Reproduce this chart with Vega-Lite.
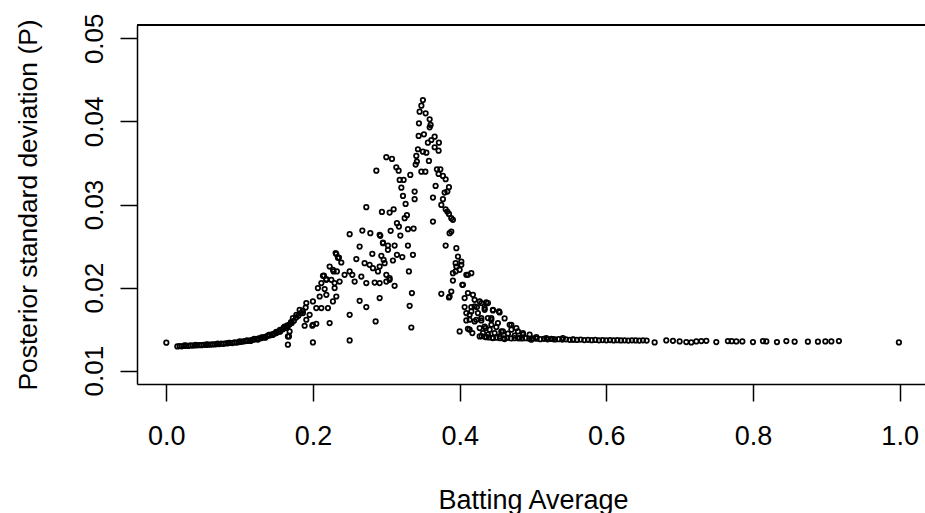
{
  "$schema": "https://vega.github.io/schema/vega-lite/v6.json",
  "autosize": "none",
  "width": 788,
  "height": 359,
  "padding": {"left": 137, "top": 25, "right": 0, "bottom": 129},
  "background": "white",
  "config": {
    "view": {"stroke": null},
    "font": "Liberation Sans"
  },
  "data": {
    "values": [
      {"avg": 0.0, "sd": 0.01337},
      {"avg": 0.015, "sd": 0.01292}, {"avg": 0.018, "sd": 0.01296}, {"avg": 0.021, "sd": 0.01294}, {"avg": 0.024, "sd": 0.01299},
      {"avg": 0.027, "sd": 0.01301}, {"avg": 0.030, "sd": 0.01298}, {"avg": 0.033, "sd": 0.01304}, {"avg": 0.036, "sd": 0.01302},
      {"avg": 0.039, "sd": 0.01306}, {"avg": 0.042, "sd": 0.01305}, {"avg": 0.045, "sd": 0.01309}, {"avg": 0.048, "sd": 0.01307},
      {"avg": 0.051, "sd": 0.01311}, {"avg": 0.054, "sd": 0.01310}, {"avg": 0.057, "sd": 0.01314}, {"avg": 0.060, "sd": 0.01313},
      {"avg": 0.063, "sd": 0.01317}, {"avg": 0.066, "sd": 0.01316}, {"avg": 0.069, "sd": 0.01321}, {"avg": 0.072, "sd": 0.01320},
      {"avg": 0.075, "sd": 0.01325}, {"avg": 0.078, "sd": 0.01324}, {"avg": 0.081, "sd": 0.01329}, {"avg": 0.084, "sd": 0.01330},
      {"avg": 0.087, "sd": 0.01334}, {"avg": 0.090, "sd": 0.01333}, {"avg": 0.093, "sd": 0.01340}, {"avg": 0.096, "sd": 0.01338},
      {"avg": 0.099, "sd": 0.01345}, {"avg": 0.102, "sd": 0.01348}, {"avg": 0.105, "sd": 0.01352}, {"avg": 0.108, "sd": 0.01356},
      {"avg": 0.111, "sd": 0.01360}, {"avg": 0.114, "sd": 0.01363}, {"avg": 0.117, "sd": 0.01370}, {"avg": 0.120, "sd": 0.01375},
      {"avg": 0.123, "sd": 0.01380}, {"avg": 0.126, "sd": 0.01388}, {"avg": 0.129, "sd": 0.01392}, {"avg": 0.132, "sd": 0.01400},
      {"avg": 0.135, "sd": 0.01408}, {"avg": 0.138, "sd": 0.01418}, {"avg": 0.141, "sd": 0.01425}, {"avg": 0.144, "sd": 0.01437},
      {"avg": 0.147, "sd": 0.01445}, {"avg": 0.150, "sd": 0.01458}, {"avg": 0.153, "sd": 0.01470}, {"avg": 0.156, "sd": 0.01485},
      {"avg": 0.159, "sd": 0.01500}, {"avg": 0.162, "sd": 0.01515}, {"avg": 0.165, "sd": 0.01535}, {"avg": 0.168, "sd": 0.01555},
      {"avg": 0.171, "sd": 0.01575}, {"avg": 0.174, "sd": 0.01600}, {"avg": 0.177, "sd": 0.01640}, {"avg": 0.180, "sd": 0.01660},
      {"avg": 0.183, "sd": 0.01690}, {"avg": 0.186, "sd": 0.01720}, {"avg": 0.190, "sd": 0.01760},
      {"avg": 0.025, "sd": 0.01304}, {"avg": 0.040, "sd": 0.01310}, {"avg": 0.055, "sd": 0.01316}, {"avg": 0.070, "sd": 0.01326},
      {"avg": 0.085, "sd": 0.01336}, {"avg": 0.100, "sd": 0.01352}, {"avg": 0.110, "sd": 0.01366}, {"avg": 0.120, "sd": 0.01382},
      {"avg": 0.130, "sd": 0.01402}, {"avg": 0.140, "sd": 0.01432}, {"avg": 0.150, "sd": 0.01468}, {"avg": 0.155, "sd": 0.01490},
      {"avg": 0.160, "sd": 0.01520}, {"avg": 0.165, "sd": 0.01545}, {"avg": 0.170, "sd": 0.01585},
      {"avg": 0.115, "sd": 0.01358}, {"avg": 0.125, "sd": 0.01375}, {"avg": 0.135, "sd": 0.01398}, {"avg": 0.145, "sd": 0.01430},
      {"avg": 0.155, "sd": 0.01470}, {"avg": 0.165, "sd": 0.01520},
      {"avg": 0.1658, "sd": 0.01313}, {"avg": 0.1999, "sd": 0.0134}, {"avg": 0.25, "sd": 0.01364}, {"avg": 0.25, "sd": 0.01673},
      {"avg": 0.1991, "sd": 0.01541}, {"avg": 0.2727, "sd": 0.01766}, {"avg": 0.2854, "sd": 0.01593}, {"avg": 0.2636, "sd": 0.01841},
      {"avg": 0.1672, "sd": 0.01412},
      {"avg": 0.2309, "sd": 0.02415}, {"avg": 0.234, "sd": 0.02358}, {"avg": 0.2227, "sd": 0.02254}, {"avg": 0.2272, "sd": 0.02214},
      {"avg": 0.2326, "sd": 0.02194}, {"avg": 0.2136, "sd": 0.02142}, {"avg": 0.2182, "sd": 0.02102}, {"avg": 0.2114, "sd": 0.02054},
      {"avg": 0.225, "sd": 0.02094}, {"avg": 0.2067, "sd": 0.01994}, {"avg": 0.2159, "sd": 0.01982}, {"avg": 0.2295, "sd": 0.01994},
      {"avg": 0.2091, "sd": 0.01893}, {"avg": 0.2182, "sd": 0.01913}, {"avg": 0.2272, "sd": 0.01833}, {"avg": 0.2318, "sd": 0.01893},
      {"avg": 0.1909, "sd": 0.01814}, {"avg": 0.1999, "sd": 0.01833}, {"avg": 0.2045, "sd": 0.01754}, {"avg": 0.2114, "sd": 0.01754},
      {"avg": 0.2204, "sd": 0.01754}, {"avg": 0.1818, "sd": 0.01733}, {"avg": 0.1863, "sd": 0.01693}, {"avg": 0.1954, "sd": 0.01673},
      {"avg": 0.1773, "sd": 0.01673}, {"avg": 0.1726, "sd": 0.01633}, {"avg": 0.1909, "sd": 0.01613}, {"avg": 0.1999, "sd": 0.01553},
      {"avg": 0.2045, "sd": 0.01565}, {"avg": 0.2227, "sd": 0.01573}, {"avg": 0.1886, "sd": 0.01541}, {"avg": 0.1613, "sd": 0.01532},
      {"avg": 0.1681, "sd": 0.01472}, {"avg": 0.1658, "sd": 0.01412}, {"avg": 0.15, "sd": 0.01453},
      {"avg": 0.2318, "sd": 0.02403}, {"avg": 0.2354, "sd": 0.02362}, {"avg": 0.2386, "sd": 0.02302}, {"avg": 0.2281, "sd": 0.02194},
      {"avg": 0.2149, "sd": 0.02145}, {"avg": 0.2809, "sd": 0.02406}, {"avg": 0.2932, "sd": 0.02382}, {"avg": 0.2963, "sd": 0.02334},
      {"avg": 0.2591, "sd": 0.02343}, {"avg": 0.2704, "sd": 0.02294}, {"avg": 0.2772, "sd": 0.02274}, {"avg": 0.2817, "sd": 0.02234},
      {"avg": 0.2909, "sd": 0.02254}, {"avg": 0.2886, "sd": 0.02194}, {"avg": 0.309, "sd": 0.02326}, {"avg": 0.3145, "sd": 0.02394},
      {"avg": 0.3218, "sd": 0.02367}, {"avg": 0.3363, "sd": 0.02394}, {"avg": 0.3308, "sd": 0.02194}, {"avg": 0.3, "sd": 0.02154},
      {"avg": 0.3045, "sd": 0.02094}, {"avg": 0.2909, "sd": 0.02054}, {"avg": 0.2841, "sd": 0.02061}, {"avg": 0.3113, "sd": 0.02022},
      {"avg": 0.25, "sd": 0.02194}, {"avg": 0.2536, "sd": 0.02154}, {"avg": 0.2568, "sd": 0.02073}, {"avg": 0.2659, "sd": 0.02133},
      {"avg": 0.2727, "sd": 0.02054}, {"avg": 0.2431, "sd": 0.02154}, {"avg": 0.2363, "sd": 0.02073}, {"avg": 0.2295, "sd": 0.02054},
      {"avg": 0.2182, "sd": 0.02094},
      {"avg": 0.2954, "sd": 0.02535}, {"avg": 0.3022, "sd": 0.02454}, {"avg": 0.2977, "sd": 0.02294}, {"avg": 0.3045, "sd": 0.02114},
      {"avg": 0.3, "sd": 0.02073}, {"avg": 0.3349, "sd": 0.01934}, {"avg": 0.3318, "sd": 0.01781}, {"avg": 0.3341, "sd": 0.0152},
      {"avg": 0.2909, "sd": 0.01874}, {"avg": 0.2909, "sd": 0.02635},
      {"avg": 0.3499, "sd": 0.04257}, {"avg": 0.3478, "sd": 0.04189}, {"avg": 0.3454, "sd": 0.04117}, {"avg": 0.3536, "sd": 0.04097},
      {"avg": 0.3591, "sd": 0.04025}, {"avg": 0.3445, "sd": 0.03977}, {"avg": 0.3604, "sd": 0.03957}, {"avg": 0.3591, "sd": 0.03929},
      {"avg": 0.3513, "sd": 0.03845}, {"avg": 0.3441, "sd": 0.03825}, {"avg": 0.3659, "sd": 0.03816}, {"avg": 0.3614, "sd": 0.03776},
      {"avg": 0.3567, "sd": 0.03744}, {"avg": 0.3717, "sd": 0.03744}, {"avg": 0.3659, "sd": 0.03689}, {"avg": 0.3431, "sd": 0.03665},
      {"avg": 0.3499, "sd": 0.03636}, {"avg": 0.3546, "sd": 0.03624}, {"avg": 0.3713, "sd": 0.03648}, {"avg": 0.3409, "sd": 0.03584},
      {"avg": 0.3, "sd": 0.03569}, {"avg": 0.3077, "sd": 0.03548}, {"avg": 0.3581, "sd": 0.03524}, {"avg": 0.3417, "sd": 0.03516},
      {"avg": 0.34, "sd": 0.0348}, {"avg": 0.3136, "sd": 0.03448}, {"avg": 0.2864, "sd": 0.03407}, {"avg": 0.3168, "sd": 0.03407},
      {"avg": 0.3478, "sd": 0.03395}, {"avg": 0.3532, "sd": 0.03395}, {"avg": 0.369, "sd": 0.03424}, {"avg": 0.3737, "sd": 0.03424},
      {"avg": 0.3327, "sd": 0.03356}, {"avg": 0.3713, "sd": 0.03368}, {"avg": 0.3772, "sd": 0.03344}, {"avg": 0.3809, "sd": 0.03304},
      {"avg": 0.3182, "sd": 0.03296}, {"avg": 0.3236, "sd": 0.03296}, {"avg": 0.3205, "sd": 0.03203}, {"avg": 0.3672, "sd": 0.03224},
      {"avg": 0.3854, "sd": 0.03208}, {"avg": 0.3386, "sd": 0.03155}, {"avg": 0.3832, "sd": 0.03155}, {"avg": 0.3795, "sd": 0.03143},
      {"avg": 0.3227, "sd": 0.03103}, {"avg": 0.3386, "sd": 0.03064}, {"avg": 0.3636, "sd": 0.03083}, {"avg": 0.3772, "sd": 0.03064},
      {"avg": 0.3263, "sd": 0.03007}, {"avg": 0.375, "sd": 0.02995}, {"avg": 0.2727, "sd": 0.02968}, {"avg": 0.294, "sd": 0.02911},
      {"avg": 0.3045, "sd": 0.02903}, {"avg": 0.31, "sd": 0.02943}, {"avg": 0.3809, "sd": 0.02943}, {"avg": 0.3854, "sd": 0.02887},
      {"avg": 0.3281, "sd": 0.02871}, {"avg": 0.325, "sd": 0.02835}, {"avg": 0.3886, "sd": 0.02835}, {"avg": 0.3145, "sd": 0.02775},
      {"avg": 0.3636, "sd": 0.02794}, {"avg": 0.3172, "sd": 0.02734}, {"avg": 0.3295, "sd": 0.02703}, {"avg": 0.3372, "sd": 0.0271},
      {"avg": 0.3059, "sd": 0.02683}, {"avg": 0.3886, "sd": 0.02674}, {"avg": 0.3863, "sd": 0.02655}, {"avg": 0.25, "sd": 0.02643},
      {"avg": 0.2673, "sd": 0.02686}, {"avg": 0.2782, "sd": 0.02655}, {"avg": 0.2918, "sd": 0.02623}, {"avg": 0.3191, "sd": 0.02626},
      {"avg": 0.2954, "sd": 0.02542}, {"avg": 0.3022, "sd": 0.02506}, {"avg": 0.3113, "sd": 0.02506}, {"avg": 0.3295, "sd": 0.02506},
      {"avg": 0.3809, "sd": 0.02506}, {"avg": 0.3955, "sd": 0.02475}, {"avg": 0.2636, "sd": 0.02494},
      {"avg": 0.3832, "sd": 0.02915}, {"avg": 0.3908, "sd": 0.02815}, {"avg": 0.4023, "sd": 0.02314}, {"avg": 0.3955, "sd": 0.02254},
      {"avg": 0.4091, "sd": 0.02154}, {"avg": 0.4045, "sd": 0.02034},
      {"avg": 0.3977, "sd": 0.02374}, {"avg": 0.3945, "sd": 0.02294}, {"avg": 0.4023, "sd": 0.02274}, {"avg": 0.4, "sd": 0.02214},
      {"avg": 0.3945, "sd": 0.02194}, {"avg": 0.4113, "sd": 0.02154}, {"avg": 0.4159, "sd": 0.02174}, {"avg": 0.3908, "sd": 0.02085},
      {"avg": 0.4036, "sd": 0.02034}, {"avg": 0.375, "sd": 0.01925}, {"avg": 0.3886, "sd": 0.01953}, {"avg": 0.3854, "sd": 0.01881},
      {"avg": 0.4068, "sd": 0.01874}, {"avg": 0.4113, "sd": 0.01934}, {"avg": 0.4181, "sd": 0.01913}, {"avg": 0.4273, "sd": 0.01833},
      {"avg": 0.4364, "sd": 0.01821}, {"avg": 0.4068, "sd": 0.01766}, {"avg": 0.4159, "sd": 0.01766}, {"avg": 0.4236, "sd": 0.01766},
      {"avg": 0.4341, "sd": 0.01754}, {"avg": 0.4454, "sd": 0.01725}, {"avg": 0.4536, "sd": 0.01713}, {"avg": 0.4136, "sd": 0.01673},
      {"avg": 0.4227, "sd": 0.01613}, {"avg": 0.4296, "sd": 0.01605}, {"avg": 0.4386, "sd": 0.01633}, {"avg": 0.4432, "sd": 0.01613},
      {"avg": 0.4613, "sd": 0.01629}, {"avg": 0.4091, "sd": 0.01605}, {"avg": 0.4113, "sd": 0.01505}, {"avg": 0.4173, "sd": 0.01453},
      {"avg": 0.4, "sd": 0.01472}, {"avg": 0.4273, "sd": 0.01412}, {"avg": 0.4354, "sd": 0.01513}, {"avg": 0.4409, "sd": 0.01493},
      {"avg": 0.45, "sd": 0.01525}, {"avg": 0.4568, "sd": 0.01472}, {"avg": 0.4705, "sd": 0.01553}, {"avg": 0.4773, "sd": 0.01513},
      {"avg": 0.4659, "sd": 0.01445}, {"avg": 0.475, "sd": 0.01421}, {"avg": 0.4863, "sd": 0.01433}, {"avg": 0.4977, "sd": 0.01373},
      {"avg": 0.4818, "sd": 0.01393}, {"avg": 0.5046, "sd": 0.01405}, {"avg": 0.5182, "sd": 0.01393}, {"avg": 0.5272, "sd": 0.01381},
      {"avg": 0.5408, "sd": 0.01393}, {"avg": 0.5545, "sd": 0.01373}, {"avg": 0.4454, "sd": 0.01393}, {"avg": 0.4545, "sd": 0.01412},
      {"avg": 0.4613, "sd": 0.01381}, {"avg": 0.4364, "sd": 0.01405},
      {"avg": 0.3908, "sd": 0.02174}, {"avg": 0.3863, "sd": 0.01893}, {"avg": 0.4204, "sd": 0.01853}, {"avg": 0.4204, "sd": 0.01773},
      {"avg": 0.4296, "sd": 0.01814}, {"avg": 0.4386, "sd": 0.01814}, {"avg": 0.4091, "sd": 0.01693}, {"avg": 0.4159, "sd": 0.01713},
      {"avg": 0.4249, "sd": 0.01693}, {"avg": 0.4341, "sd": 0.01733}, {"avg": 0.4454, "sd": 0.01733}, {"avg": 0.4545, "sd": 0.01701},
      {"avg": 0.4136, "sd": 0.01613}, {"avg": 0.4204, "sd": 0.01593}, {"avg": 0.4296, "sd": 0.01633}, {"avg": 0.4432, "sd": 0.01633},
      {"avg": 0.4136, "sd": 0.01493}, {"avg": 0.4273, "sd": 0.01513}, {"avg": 0.4341, "sd": 0.01532}, {"avg": 0.4432, "sd": 0.01553},
      {"avg": 0.4522, "sd": 0.01573}, {"avg": 0.4682, "sd": 0.01553}, {"avg": 0.4318, "sd": 0.01453}, {"avg": 0.4386, "sd": 0.01433},
      {"avg": 0.4477, "sd": 0.01453}, {"avg": 0.459, "sd": 0.01472}, {"avg": 0.4705, "sd": 0.01493}, {"avg": 0.4795, "sd": 0.01472},
      {"avg": 0.4863, "sd": 0.01453}, {"avg": 0.4954, "sd": 0.01433},
      {"avg": 0.43, "sd": 0.01415}, {"avg": 0.435, "sd": 0.01405}, {"avg": 0.44, "sd": 0.014}, {"avg": 0.445, "sd": 0.01395},
      {"avg": 0.45, "sd": 0.01398}, {"avg": 0.455, "sd": 0.01392}, {"avg": 0.46, "sd": 0.0139}, {"avg": 0.465, "sd": 0.01395},
      {"avg": 0.47, "sd": 0.01388}, {"avg": 0.475, "sd": 0.01392}, {"avg": 0.48, "sd": 0.0139}, {"avg": 0.485, "sd": 0.01388},
      {"avg": 0.49, "sd": 0.01392}, {"avg": 0.495, "sd": 0.01385}, {"avg": 0.5, "sd": 0.01388},
      {"avg": 0.505, "sd": 0.01385}, {"avg": 0.51, "sd": 0.0138}, {"avg": 0.515, "sd": 0.01384}, {"avg": 0.52, "sd": 0.01378},
      {"avg": 0.525, "sd": 0.01382}, {"avg": 0.53, "sd": 0.01376}, {"avg": 0.535, "sd": 0.0138}, {"avg": 0.54, "sd": 0.01374},
      {"avg": 0.545, "sd": 0.01378}, {"avg": 0.55, "sd": 0.01372}, {"avg": 0.555, "sd": 0.01376}, {"avg": 0.56, "sd": 0.0137},
      {"avg": 0.565, "sd": 0.01374}, {"avg": 0.57, "sd": 0.01368}, {"avg": 0.575, "sd": 0.01372}, {"avg": 0.58, "sd": 0.01367},
      {"avg": 0.585, "sd": 0.0137}, {"avg": 0.59, "sd": 0.01366}, {"avg": 0.595, "sd": 0.01369}, {"avg": 0.6, "sd": 0.01365},
      {"avg": 0.605, "sd": 0.01368}, {"avg": 0.61, "sd": 0.01364}, {"avg": 0.615, "sd": 0.01367}, {"avg": 0.62, "sd": 0.01364},
      {"avg": 0.625, "sd": 0.01366}, {"avg": 0.63, "sd": 0.01363}, {"avg": 0.635, "sd": 0.01366}, {"avg": 0.64, "sd": 0.01364},
      {"avg": 0.645, "sd": 0.01362}, {"avg": 0.65, "sd": 0.01365}, {"avg": 0.655, "sd": 0.01363},
      {"avg": 0.6659, "sd": 0.0134}, {"avg": 0.6818, "sd": 0.01364}, {"avg": 0.6909, "sd": 0.0136}, {"avg": 0.7, "sd": 0.01352},
      {"avg": 0.7091, "sd": 0.01345}, {"avg": 0.7159, "sd": 0.0134}, {"avg": 0.7228, "sd": 0.01352}, {"avg": 0.7296, "sd": 0.01357},
      {"avg": 0.7364, "sd": 0.0136}, {"avg": 0.75, "sd": 0.01345}, {"avg": 0.7658, "sd": 0.01357}, {"avg": 0.7709, "sd": 0.01355},
      {"avg": 0.7773, "sd": 0.01352}, {"avg": 0.7855, "sd": 0.01352}, {"avg": 0.8, "sd": 0.01345}, {"avg": 0.8136, "sd": 0.01357},
      {"avg": 0.8182, "sd": 0.01352}, {"avg": 0.8327, "sd": 0.01345}, {"avg": 0.8455, "sd": 0.01357}, {"avg": 0.8568, "sd": 0.01349},
      {"avg": 0.8749, "sd": 0.01349}, {"avg": 0.8886, "sd": 0.01349}, {"avg": 0.8987, "sd": 0.01352}, {"avg": 0.9069, "sd": 0.01352},
      {"avg": 0.9172, "sd": 0.01357}, {"avg": 0.999, "sd": 0.0134}
    ]
  },
  "layer": [
    {
      "mark": {"type": "point", "shape": "circle", "filled": false, "stroke": "black", "strokeWidth": 1.75, "size": 20, "opacity": 1},
      "encoding": {
        "x": {
          "field": "avg", "type": "quantitative",
          "scale": {"domain": [-0.04, 1.0346], "nice": false, "zero": false},
          "axis": {
            "values": [0, 0.2, 0.4, 0.6, 0.8, 1.0], "format": ".1f", "grid": false,
            "domainColor": "black", "domainWidth": 1.5,
            "tickColor": "black", "tickWidth": 1.5, "tickSize": 17,
            "labelFont": "Liberation Sans", "labelFontSize": 27, "labelColor": "black",
            "labelBaseline": "alphabetic", "labelPadding": 43, "labelFlush": false, "labelOverlap": false,
            "title": "Batting Average", "titleFont": "Liberation Sans", "titleFontSize": 27,
            "titleFontWeight": "normal", "titleColor": "black",
            "titleX": 396, "titleY": 124, "titleAlign": "center", "titleBaseline": "alphabetic"
          }
        },
        "y": {
          "field": "sd", "type": "quantitative",
          "scale": {"domain": [0.0084, 0.0516], "nice": false, "zero": false},
          "axis": {
            "values": [0.01, 0.02, 0.03, 0.04, 0.05], "format": ".2f", "grid": false,
            "domainColor": "black", "domainWidth": 1.5,
            "tickColor": "black", "tickWidth": 1.5, "tickSize": 17,
            "labelFont": "Liberation Sans", "labelFontSize": 26, "labelColor": "black",
            "labelAngle": -90, "labelAlign": "center", "labelBaseline": "alphabetic",
            "labelPadding": 18, "labelFlush": false, "labelOverlap": false,
            "title": "Posterior standard deviation (P)", "titleFont": "Liberation Sans", "titleFontSize": 26.4,
            "titleFontWeight": "normal", "titleColor": "black",
            "titleAngle": -90, "titleX": -101, "titleY": 179.5, "titleAlign": "center", "titleBaseline": "alphabetic"
          }
        }
      }
    },
    {
      "mark": {"type": "rule", "stroke": "black", "strokeWidth": 1.5},
      "encoding": {"y": {"datum": 0.0516}}
    }
  ]
}
